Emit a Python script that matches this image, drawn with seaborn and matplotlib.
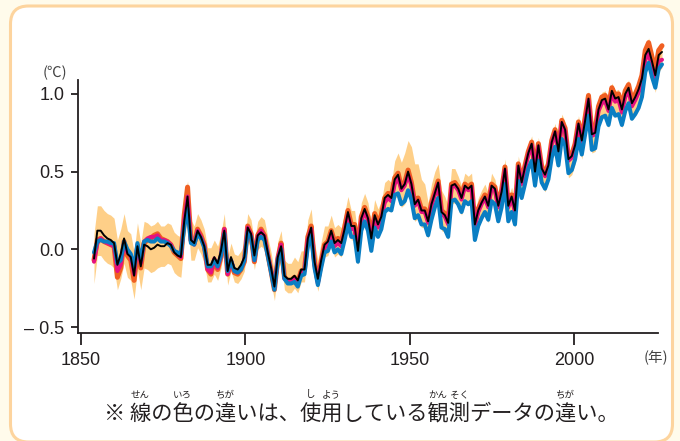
import numpy as np
import pandas as pd
import matplotlib
matplotlib.use("Agg")
import matplotlib.pyplot as plt
import seaborn as sns
from matplotlib.patches import FancyBboxPatch
from matplotlib.transforms import IdentityTransform

# ---------------- data ----------------
years = np.arange(1850, 2021)

black = [
    -0.06, 0.12, 0.12, 0.09, 0.07, 0.06, 0.04, -0.10, -0.03, 0.07,
    -0.03, -0.05, -0.17, 0.02, -0.11, 0.03, 0.02, 0.00, 0.01, 0.03,
    0.02, 0.02, 0.04, 0.03, -0.02, -0.04, -0.05, 0.18, 0.34, 0.06,
    0.04, 0.12, 0.08, 0.02, -0.10, -0.10, -0.05, -0.09, -0.01, 0.12,
    -0.14, -0.05, -0.12, -0.13, -0.10, -0.05, 0.14, 0.10, -0.04, 0.09,
    0.11, 0.09, -0.02, -0.12, -0.24, -0.05, 0.02, -0.17, -0.19, -0.19,
    -0.17, -0.20, -0.13, -0.13, 0.07, 0.14, -0.08, -0.19, -0.07, 0.03,
    0.05, 0.12, 0.04, 0.06, 0.04, 0.13, 0.24, 0.15, 0.15, -0.01,
    0.20, 0.26, 0.20, 0.07, 0.22, 0.16, 0.21, 0.33, 0.35, 0.33,
    0.45, 0.48, 0.39, 0.42, 0.50, 0.42, 0.29, 0.32, 0.25, 0.25,
    0.18, 0.29, 0.36, 0.43, 0.24, 0.22, 0.17, 0.41, 0.42, 0.39,
    0.33, 0.41, 0.39, 0.41, 0.16, 0.25, 0.30, 0.34, 0.28, 0.41,
    0.39, 0.28, 0.37, 0.52, 0.28, 0.34, 0.25, 0.54, 0.43, 0.53,
    0.62, 0.68, 0.50, 0.67, 0.52, 0.48, 0.54, 0.69, 0.76, 0.63,
    0.82, 0.77, 0.58, 0.60, 0.67, 0.81, 0.70, 0.83, 0.97, 0.74,
    0.75, 0.90, 0.96, 0.97, 0.90, 1.02, 0.97, 0.98, 0.90, 1.00,
    1.04, 0.94, 0.98, 1.03, 1.10, 1.25, 1.29, 1.21, 1.12, 1.25,
    1.27,
]

blue = [
    -0.02, 0.05, 0.06, 0.05, 0.05, 0.04, 0.04, -0.09, -0.07, 0.05,
    0.00, -0.03, -0.12, 0.04, -0.07, 0.05, 0.06, 0.05, 0.05, 0.07,
    0.05, 0.05, 0.04, 0.02, -0.01, -0.02, -0.03, 0.14, 0.26, 0.04,
    0.03, 0.10, 0.07, 0.01, -0.11, -0.11, -0.07, -0.11, -0.04, 0.10,
    -0.14, -0.07, -0.14, -0.15, -0.13, -0.07, 0.11, 0.08, -0.07, 0.06,
    0.08, 0.06, -0.04, -0.15, -0.26, -0.07, 0.00, -0.19, -0.22, -0.22,
    -0.21, -0.24, -0.17, -0.16, 0.02, 0.09, -0.12, -0.23, -0.12, -0.02,
    -0.01, 0.05, -0.02, 0.00, -0.03, 0.06, 0.16, 0.08, 0.08, -0.08,
    0.12, 0.18, 0.12, -0.01, 0.14, 0.08, 0.13, 0.24, 0.26, 0.25,
    0.35, 0.36, 0.29, 0.31, 0.38, 0.32, 0.20, 0.22, 0.16, 0.16,
    0.09, 0.19, 0.27, 0.33, 0.14, 0.13, 0.08, 0.31, 0.32, 0.29,
    0.24, 0.31, 0.29, 0.31, 0.06, 0.15, 0.20, 0.24, 0.19, 0.31,
    0.29, 0.18, 0.27, 0.42, 0.18, 0.24, 0.16, 0.44, 0.33, 0.42,
    0.52, 0.57, 0.41, 0.57, 0.43, 0.39, 0.45, 0.59, 0.66, 0.54,
    0.71, 0.67, 0.49, 0.51, 0.58, 0.71, 0.61, 0.74, 0.86, 0.64,
    0.65, 0.79, 0.85, 0.86, 0.80, 0.91, 0.86, 0.87, 0.80, 0.89,
    0.94, 0.84, 0.87, 0.91, 0.98, 1.14, 1.20, 1.11, 1.04, 1.16,
    1.19,
]

pink = [
    -0.08, 0.04, 0.07, 0.05, 0.04, 0.03, 0.02, -0.14, -0.10, 0.04,
    -0.02, -0.04, -0.16, 0.03, -0.09, 0.05, 0.07, 0.08, 0.08, 0.09,
    0.06, 0.06, 0.05, 0.03, -0.01, -0.03, -0.05, 0.18, 0.34, 0.05,
    0.03, 0.12, 0.08, 0.02, -0.13, -0.15, -0.06, -0.12, -0.04, 0.13,
    -0.16, -0.07, -0.14, -0.15, -0.12, -0.07, 0.14, 0.09, -0.07, 0.08,
    0.12, 0.08, -0.03, -0.14, -0.25, -0.06, 0.03, -0.19, -0.20, -0.21,
    -0.19, -0.22, -0.15, -0.14, 0.06, 0.13, -0.10, -0.22, -0.09, 0.01,
    0.03, 0.10, 0.02, 0.04, 0.02, 0.11, 0.22, 0.13, 0.13, -0.03,
    0.18, 0.24, 0.19, 0.05, 0.20, 0.14, 0.19, 0.30, 0.33, 0.31,
    0.42, 0.46, 0.38, 0.41, 0.48, 0.41, 0.28, 0.31, 0.24, 0.24,
    0.17, 0.28, 0.35, 0.42, 0.23, 0.21, 0.16, 0.40, 0.41, 0.38,
    0.32, 0.40, 0.38, 0.40, 0.15, 0.24, 0.29, 0.33, 0.27, 0.40,
    0.38, 0.27, 0.36, 0.51, 0.27, 0.33, 0.24, 0.53, 0.42, 0.52,
    0.61, 0.67, 0.49, 0.66, 0.51, 0.47, 0.53, 0.68, 0.75, 0.62,
    0.81, 0.76, 0.57, 0.59, 0.66, 0.80, 0.69, 0.82, 0.96, 0.73,
    0.74, 0.89, 0.94, 0.95, 0.89, 1.00, 0.95, 0.96, 0.88, 0.98,
    1.02, 0.92, 0.96, 1.01, 1.07, 1.22, 1.26, 1.17, 1.09, 1.21,
    1.22,
]

orange = [
    -0.07, 0.06, 0.07, 0.05, 0.04, 0.03, 0.02, -0.18, -0.12, 0.05,
    -0.04, -0.07, -0.20, 0.01, -0.12, 0.04, 0.06, 0.07, 0.09, 0.10,
    0.07, 0.06, 0.05, 0.03, -0.02, -0.04, -0.06, 0.22, 0.40, 0.06,
    0.04, 0.13, 0.09, 0.03, -0.13, -0.16, -0.07, -0.13, -0.05, 0.13,
    -0.16, -0.08, -0.15, -0.16, -0.13, -0.08, 0.15, 0.10, -0.08, 0.09,
    0.13, 0.09, -0.03, -0.14, -0.26, -0.06, 0.04, -0.18, -0.20, -0.20,
    -0.18, -0.21, -0.14, -0.13, 0.08, 0.15, -0.08, -0.20, -0.08, 0.03,
    0.05, 0.12, 0.05, 0.07, 0.05, 0.14, 0.25, 0.16, 0.16, 0.00,
    0.21, 0.27, 0.21, 0.08, 0.23, 0.17, 0.22, 0.33, 0.36, 0.34,
    0.46, 0.49, 0.40, 0.43, 0.51, 0.43, 0.30, 0.33, 0.26, 0.26,
    0.19, 0.30, 0.37, 0.44, 0.25, 0.23, 0.18, 0.42, 0.43, 0.40,
    0.34, 0.42, 0.40, 0.42, 0.17, 0.26, 0.31, 0.35, 0.29, 0.42,
    0.40, 0.29, 0.38, 0.53, 0.29, 0.35, 0.26, 0.55, 0.44, 0.54,
    0.63, 0.69, 0.51, 0.68, 0.53, 0.49, 0.55, 0.70, 0.77, 0.64,
    0.83, 0.78, 0.59, 0.61, 0.68, 0.82, 0.71, 0.85, 0.99, 0.76,
    0.77, 0.92, 0.98, 0.99, 0.92, 1.04, 0.99, 1.00, 0.92, 1.02,
    1.06, 0.96, 1.00, 1.05, 1.12, 1.28, 1.33, 1.24, 1.15, 1.28,
    1.31,
]

band_hi = [
    0.10, 0.28, 0.28, 0.25, 0.23, 0.22, 0.20, 0.06, 0.13, 0.23,
    0.12, 0.10, -0.02, 0.17, 0.04, 0.18, 0.17, 0.15, 0.16, 0.18,
    0.15, 0.15, 0.17, 0.16, 0.11, 0.09, 0.08, 0.31, 0.44, 0.19,
    0.15, 0.23, 0.19, 0.13, 0.01, 0.01, 0.06, 0.02, 0.10, 0.23,
    -0.05, 0.04, -0.03, -0.04, -0.01, 0.04, 0.23, 0.19, 0.05, 0.18,
    0.21, 0.19, 0.08, -0.02, -0.14, 0.05, 0.12, -0.07, -0.09, -0.09,
    -0.05, -0.08, -0.01, -0.01, 0.19, 0.26, 0.04, -0.07, 0.05, 0.15,
    0.15, 0.22, 0.14, 0.16, 0.14, 0.23, 0.34, 0.25, 0.25, 0.09,
    0.30, 0.36, 0.30, 0.17, 0.32, 0.26, 0.31, 0.43, 0.45, 0.43,
    0.57, 0.62, 0.56, 0.62, 0.70, 0.66, 0.55, 0.55, 0.45, 0.42,
    0.30, 0.42, 0.50, 0.55, 0.38, 0.34, 0.28, 0.52, 0.52, 0.47,
    0.41, 0.49, 0.47, 0.49, 0.24, 0.33, 0.38, 0.42, 0.36, 0.49,
    0.45, 0.34, 0.43, 0.58, 0.34, 0.40, 0.31, 0.60, 0.49, 0.59,
    0.67, 0.73, 0.55, 0.72, 0.57, 0.53, 0.59, 0.74, 0.81, 0.68,
    0.87, 0.82, 0.63, 0.65, 0.72, 0.86, 0.75, 0.88, 1.02, 0.79,
    0.80, 0.95, 1.01, 1.02, 0.95, 1.07, 1.02, 1.03, 0.95, 1.05,
    1.09, 0.99, 1.03, 1.08, 1.15, 1.30, 1.36, 1.27, 1.17, 1.31,
    1.33,
]

band_lo = [
    -0.22, -0.04, -0.04, -0.07, -0.09, -0.10, -0.12, -0.26, -0.19, -0.09,
    -0.18, -0.20, -0.32, -0.13, -0.26, -0.12, -0.13, -0.15, -0.14, -0.12,
    -0.11, -0.11, -0.09, -0.10, -0.15, -0.17, -0.18, 0.05, 0.22, -0.07,
    -0.07, 0.01, -0.03, -0.09, -0.21, -0.21, -0.16, -0.20, -0.12, 0.01,
    -0.23, -0.14, -0.21, -0.22, -0.19, -0.14, 0.05, 0.01, -0.13, 0.00,
    0.02, 0.00, -0.11, -0.21, -0.33, -0.14, -0.07, -0.26, -0.28, -0.28,
    -0.25, -0.28, -0.21, -0.21, -0.01, 0.06, -0.16, -0.27, -0.15, -0.05,
    -0.04, 0.03, -0.05, -0.03, -0.05, 0.04, 0.15, 0.06, 0.06, -0.10,
    0.11, 0.17, 0.11, -0.02, 0.13, 0.07, 0.12, 0.24, 0.26, 0.24,
    0.33, 0.34, 0.27, 0.29, 0.36, 0.30, 0.18, 0.20, 0.14, 0.14,
    0.07, 0.17, 0.25, 0.31, 0.12, 0.11, 0.06, 0.29, 0.30, 0.27,
    0.22, 0.30, 0.28, 0.30, 0.05, 0.14, 0.19, 0.23, 0.17, 0.30,
    0.28, 0.17, 0.26, 0.41, 0.17, 0.23, 0.14, 0.43, 0.32, 0.42,
    0.51, 0.57, 0.39, 0.56, 0.41, 0.37, 0.43, 0.58, 0.65, 0.52,
    0.70, 0.65, 0.46, 0.48, 0.55, 0.69, 0.58, 0.71, 0.85, 0.62,
    0.63, 0.78, 0.84, 0.85, 0.78, 0.90, 0.85, 0.86, 0.78, 0.88,
    0.93, 0.83, 0.87, 0.92, 0.99, 1.14, 1.18, 1.10, 1.01, 1.14,
    1.17,
]

axis_years = [1850, 1900, 1950, 2000]
y_ticks = [-0.5, 0.0, 0.5, 1.0]
y_labels = ["\u2013 0.5", "0.0", "0.5", "1.0"]
caption = "※ 線の色の違いは、使用している観測データの違い。"
ruby = [(2, "せん"), (4, "いろ"), (6, "ちが"), (10, "し"), (11, "よう"),
        (16, "かん"), (17, "そく"), (22, "ちが")]

# ---------------- style ----------------
sns.set_theme(style="white")
plt.rcParams["font.family"] = ["Liberation Sans", "Noto Sans CJK JP", "DejaVu Sans"]
CJK = ["Noto Sans CJK JP", "DejaVu Sans"]
TXT = "#231f20"

W, H = 680, 441
fig = plt.figure(figsize=(W / 100, H / 100), dpi=100, facecolor="#fffbeb")

box = FancyBboxPatch((10.5, -1.0), 662, 436.0,
                     boxstyle="round,pad=0,rounding_size=18",
                     transform=IdentityTransform(), facecolor="white",
                     edgecolor="#fdd49e", linewidth=2.2, zorder=-10)
fig.add_artist(box)

ax_l, ax_r, ax_b, ax_t = 77.5, 665.0, 333.3, 33.0
ax = fig.add_axes([ax_l / W, (H - ax_b) / H, (ax_r - ax_l) / W, (ax_b - ax_t) / H])
ax.patch.set_visible(False)

df = pd.DataFrame({"year": years, "black": black, "blue": blue, "pink": pink,
                   "orange": orange, "lo": band_lo, "hi": band_hi})

ax.fill_between(df["year"], df["lo"], df["hi"], color="#fecf88", lw=0, zorder=1)
sns.lineplot(data=df, x="year", y="orange", ax=ax, color="#f05f22", lw=3.6, zorder=2)
sns.lineplot(data=df, x="year", y="pink", ax=ax, color="#e5117f", lw=2.9, zorder=3)
sns.lineplot(data=df, x="year", y="blue", ax=ax, color="#0a7ec3", lw=2.9, zorder=4)
sns.lineplot(data=df, x="year", y="black", ax=ax, color="black", lw=1.4, zorder=5)

# data-year scale of the drawing area
ax.set_xlim(1845.06, 2020.9)
ax.set_ylim(-0.5405, 1.392)
ax.set_xlabel("")
ax.set_ylabel("")
ax.spines["top"].set_visible(False)
ax.spines["right"].set_visible(False)
ax.spines["bottom"].set_visible(False)
ax.tick_params(axis="x", bottom=False, labelbottom=False)
ax.spines["left"].set_bounds(-0.5405, 1.089)
ax.spines["left"].set_color(TXT)
ax.spines["left"].set_linewidth(1.3)
ax.set_yticks(y_ticks)
ax.set_yticklabels(y_labels)
ax.tick_params(axis="y", left=True, length=5, width=1.3, pad=4.5,
               labelsize=13, colors=TXT)

# the printed year axis of the reference (slightly different scale)
def fwd(y):
    return 1853.955 + (np.asarray(y) - 1850.0) * 1.01643

def inv(d):
    return 1850.0 + (np.asarray(d) - 1853.955) / 1.01643

sec = ax.secondary_xaxis("bottom", functions=(fwd, inv))
sec.set_xticks(axis_years)
sec.set_xticklabels([str(v) for v in axis_years])
sec.spines["bottom"].set_bounds(1848.94, 2025.54)
sec.spines["bottom"].set_color(TXT)
sec.spines["bottom"].set_linewidth(1.3)
sec.tick_params(axis="x", bottom=True, length=8.6, width=1.3, pad=5,
                labelsize=13, colors=TXT)

fig.text(55 / W, 1 - 73 / H, "(℃)", ha="center", va="center", fontsize=10.5,
         family=CJK, color="#444444")
fig.text(656 / W, 1 - 358 / H, "(年)", ha="center", va="center", fontsize=10.5,
         family=CJK, color="#444444")

# caption with furigana
cx, cy = 361.0, 413.0
cap = fig.text(cx / W, 1 - cy / H, caption, ha="center", va="center",
               fontsize=15.3, family=CJK, color=TXT)
fig.canvas.draw()
rend = fig.canvas.get_renderer()
prop = cap.get_fontproperties()

def wid(s):
    return rend.get_text_width_height_descent(s, prop, ismath=False)[0]

total = wid(caption)
left = cx - total / 2
for idx, kana in ruby:
    x0 = left + wid(caption[:idx])
    xc = x0 + wid(caption[idx]) / 2
    fig.text(xc / W, 1 - 395 / H, kana, ha="center", va="center",
             fontsize=6.8, family=CJK, color=TXT)

fig.savefig("out.png", dpi=100, facecolor=fig.get_facecolor())
